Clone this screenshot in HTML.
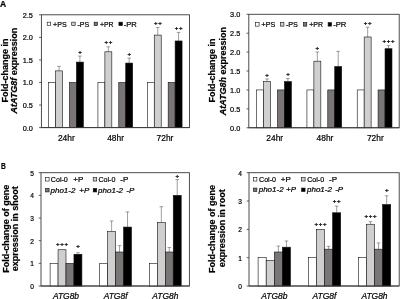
<!DOCTYPE html>
<html lang="en">
<head>
<meta charset="utf-8">
<title>Figure</title>
<style>
html,body{margin:0;padding:0;background:#fff;}
body{width:400px;height:299px;overflow:hidden;font-family:"Liberation Sans", sans-serif;}
svg{display:block;filter:blur(0.3px);}
svg text{stroke:#000;stroke-width:0.22px;}
svg text.m{stroke-width:0.18px;}
</style>
</head>
<body>
<svg width="400" height="299" viewBox="0 0 400 299" font-family='"Liberation Sans", sans-serif' fill="#000">
<rect x="41.4" y="14.8" width="148.1" height="112.8" fill="#fff" stroke="#3a3a3a" stroke-width="0.9"/>
<line x1="39.1" y1="127.6" x2="41.4" y2="127.6" stroke="#3a3a3a" stroke-width="0.8"/>
<text x="32.9" y="130.6" font-size="8" text-anchor="end" textLength="10.2" lengthAdjust="spacingAndGlyphs">0.0</text>
<line x1="39.1" y1="105.04" x2="41.4" y2="105.04" stroke="#3a3a3a" stroke-width="0.8"/>
<text x="32.9" y="108.04" font-size="8" text-anchor="end" textLength="10.2" lengthAdjust="spacingAndGlyphs">0.5</text>
<line x1="39.1" y1="82.48" x2="41.4" y2="82.48" stroke="#3a3a3a" stroke-width="0.8"/>
<text x="32.9" y="85.48" font-size="8" text-anchor="end" textLength="10.2" lengthAdjust="spacingAndGlyphs">1.0</text>
<line x1="39.1" y1="59.92" x2="41.4" y2="59.92" stroke="#3a3a3a" stroke-width="0.8"/>
<text x="32.9" y="62.92" font-size="8" text-anchor="end" textLength="10.2" lengthAdjust="spacingAndGlyphs">1.5</text>
<line x1="39.1" y1="37.36" x2="41.4" y2="37.36" stroke="#3a3a3a" stroke-width="0.8"/>
<text x="32.9" y="40.36" font-size="8" text-anchor="end" textLength="10.2" lengthAdjust="spacingAndGlyphs">2.0</text>
<line x1="39.1" y1="14.8" x2="41.4" y2="14.8" stroke="#3a3a3a" stroke-width="0.8"/>
<text x="32.9" y="17.8" font-size="8" text-anchor="end" textLength="10.2" lengthAdjust="spacingAndGlyphs">2.5</text>
<rect x="48.62" y="82.48" width="6.95" height="45.12" fill="#fff" stroke="#111" stroke-width="0.6"/>
<path d="M59.05 70.88V66.37M57.25 66.37H60.85" stroke="#6a6a6a" stroke-width="0.65" fill="none"/>
<rect x="55.58" y="70.88" width="6.95" height="56.72" fill="#d0cece" stroke="#111" stroke-width="0.6"/>
<rect x="69.47" y="82.48" width="6.95" height="45.12" fill="#7a7676" stroke="#111" stroke-width="0.6"/>
<path d="M79.9 62.09V56.08M78.1 56.08H81.7" stroke="#6a6a6a" stroke-width="0.65" fill="none"/>
<rect x="76.42" y="62.09" width="6.95" height="65.51" fill="#000" stroke="#111" stroke-width="0.6"/>
<text x="80.3" y="53.63" font-size="6.1" text-anchor="middle" font-weight="bold" letter-spacing="0.7" class="m">+</text>
<text x="66.3" y="141.3" font-size="9" text-anchor="middle" textLength="16.8" lengthAdjust="spacingAndGlyphs">24hr</text>
<rect x="97.92" y="82.48" width="6.95" height="45.12" fill="#fff" stroke="#111" stroke-width="0.6"/>
<path d="M108.35 51.8V46.84M106.55 46.84H110.15" stroke="#6a6a6a" stroke-width="0.65" fill="none"/>
<rect x="104.88" y="51.8" width="6.95" height="75.8" fill="#d0cece" stroke="#111" stroke-width="0.6"/>
<text x="108.75" y="44.39" font-size="6.1" text-anchor="middle" font-weight="bold" letter-spacing="0.7" class="m">++</text>
<rect x="118.77" y="82.48" width="6.95" height="45.12" fill="#7a7676" stroke="#111" stroke-width="0.6"/>
<path d="M129.2 63.08V58.12M127.4 58.12H131" stroke="#6a6a6a" stroke-width="0.65" fill="none"/>
<rect x="125.72" y="63.08" width="6.95" height="64.52" fill="#000" stroke="#111" stroke-width="0.6"/>
<text x="129.6" y="55.67" font-size="6.1" text-anchor="middle" font-weight="bold" letter-spacing="0.7" class="m">+</text>
<text x="115.6" y="141.3" font-size="9" text-anchor="middle" textLength="16.8" lengthAdjust="spacingAndGlyphs">48hr</text>
<rect x="147.32" y="82.48" width="6.95" height="45.12" fill="#fff" stroke="#111" stroke-width="0.6"/>
<path d="M157.75 35.1V27.43M155.95 27.43H159.55" stroke="#6a6a6a" stroke-width="0.65" fill="none"/>
<rect x="154.27" y="35.1" width="6.95" height="92.5" fill="#d0cece" stroke="#111" stroke-width="0.6"/>
<text x="158.15" y="24.98" font-size="6.1" text-anchor="middle" font-weight="bold" letter-spacing="0.7" class="m">++</text>
<rect x="168.17" y="82.48" width="6.95" height="45.12" fill="#7a7676" stroke="#111" stroke-width="0.6"/>
<path d="M178.6 40.97V32.4M176.8 32.4H180.4" stroke="#6a6a6a" stroke-width="0.65" fill="none"/>
<rect x="175.12" y="40.97" width="6.95" height="86.63" fill="#000" stroke="#111" stroke-width="0.6"/>
<text x="179" y="29.95" font-size="6.1" text-anchor="middle" font-weight="bold" letter-spacing="0.7" class="m">++</text>
<text x="165" y="141.3" font-size="9" text-anchor="middle" textLength="16.8" lengthAdjust="spacingAndGlyphs">72hr</text>
<line x1="41.4" y1="127.6" x2="189.5" y2="127.6" stroke="#3a3a3a" stroke-width="0.9"/>
<rect x="47.2" y="22.15" width="3.5" height="3.5" fill="#fff" stroke="#111" stroke-width="0.6"/>
<text x="53.1" y="26.5" font-size="8" textLength="13.6" lengthAdjust="spacingAndGlyphs">+PS</text>
<rect x="71.7" y="22.15" width="3.5" height="3.5" fill="#d0cece" stroke="#111" stroke-width="0.6"/>
<text x="77.4" y="26.5" font-size="8" textLength="11.8" lengthAdjust="spacingAndGlyphs">-PS</text>
<rect x="94.1" y="22.15" width="3.5" height="3.5" fill="#7a7676" stroke="#111" stroke-width="0.6"/>
<text x="100" y="26.5" font-size="8" textLength="13.6" lengthAdjust="spacingAndGlyphs">+PR</text>
<rect x="118.9" y="22.15" width="3.5" height="3.5" fill="#000" stroke="#111" stroke-width="0.6"/>
<text x="123.7" y="26.5" font-size="8" textLength="13.1" lengthAdjust="spacingAndGlyphs">-PR</text>
<text transform="translate(7.9 70.6) rotate(-90)" font-size="9" font-weight="bold" text-anchor="middle">Fold-change in</text>
<text transform="translate(17 70.6) rotate(-90)" font-size="9" font-weight="bold" text-anchor="middle"><tspan font-style="italic">AtATG8f</tspan> expression</text>
<rect x="248.8" y="14.3" width="150.4" height="113.45" fill="#fff" stroke="#3a3a3a" stroke-width="0.9"/>
<line x1="246.5" y1="127.75" x2="248.8" y2="127.75" stroke="#3a3a3a" stroke-width="0.8"/>
<text x="240.3" y="130.75" font-size="8" text-anchor="end" textLength="10.2" lengthAdjust="spacingAndGlyphs">0.0</text>
<line x1="246.5" y1="108.84" x2="248.8" y2="108.84" stroke="#3a3a3a" stroke-width="0.8"/>
<text x="240.3" y="111.84" font-size="8" text-anchor="end" textLength="10.2" lengthAdjust="spacingAndGlyphs">0.5</text>
<line x1="246.5" y1="89.93" x2="248.8" y2="89.93" stroke="#3a3a3a" stroke-width="0.8"/>
<text x="240.3" y="92.93" font-size="8" text-anchor="end" textLength="10.2" lengthAdjust="spacingAndGlyphs">1.0</text>
<line x1="246.5" y1="71.02" x2="248.8" y2="71.02" stroke="#3a3a3a" stroke-width="0.8"/>
<text x="240.3" y="74.02" font-size="8" text-anchor="end" textLength="10.2" lengthAdjust="spacingAndGlyphs">1.5</text>
<line x1="246.5" y1="52.12" x2="248.8" y2="52.12" stroke="#3a3a3a" stroke-width="0.8"/>
<text x="240.3" y="55.12" font-size="8" text-anchor="end" textLength="10.2" lengthAdjust="spacingAndGlyphs">2.0</text>
<line x1="246.5" y1="33.21" x2="248.8" y2="33.21" stroke="#3a3a3a" stroke-width="0.8"/>
<text x="240.3" y="36.21" font-size="8" text-anchor="end" textLength="10.2" lengthAdjust="spacingAndGlyphs">2.5</text>
<line x1="246.5" y1="14.3" x2="248.8" y2="14.3" stroke="#3a3a3a" stroke-width="0.8"/>
<text x="240.3" y="17.3" font-size="8" text-anchor="end" textLength="10.2" lengthAdjust="spacingAndGlyphs">3.0</text>
<rect x="256.62" y="89.93" width="6.95" height="37.82" fill="#fff" stroke="#111" stroke-width="0.6"/>
<path d="M267.05 81.61V78.97M265.25 78.97H268.85" stroke="#6a6a6a" stroke-width="0.65" fill="none"/>
<rect x="263.57" y="81.61" width="6.95" height="46.14" fill="#d0cece" stroke="#111" stroke-width="0.6"/>
<text x="267.45" y="76.52" font-size="6.1" text-anchor="middle" font-weight="bold" letter-spacing="0.7" class="m">+</text>
<rect x="277.48" y="89.93" width="6.95" height="37.82" fill="#7a7676" stroke="#111" stroke-width="0.6"/>
<path d="M287.9 81.61V78.59M286.1 78.59H289.7" stroke="#6a6a6a" stroke-width="0.65" fill="none"/>
<rect x="284.43" y="81.61" width="6.95" height="46.14" fill="#000" stroke="#111" stroke-width="0.6"/>
<text x="288.3" y="76.14" font-size="6.1" text-anchor="middle" font-weight="bold" letter-spacing="0.7" class="m">+</text>
<text x="274.7" y="140.7" font-size="9" text-anchor="middle" textLength="16.8" lengthAdjust="spacingAndGlyphs">24hr</text>
<rect x="306.93" y="89.93" width="6.95" height="37.82" fill="#fff" stroke="#111" stroke-width="0.6"/>
<path d="M317.35 61.19V52.04M315.55 52.04H319.15" stroke="#6a6a6a" stroke-width="0.65" fill="none"/>
<rect x="313.88" y="61.19" width="6.95" height="66.56" fill="#d0cece" stroke="#111" stroke-width="0.6"/>
<text x="317.75" y="49.59" font-size="6.1" text-anchor="middle" font-weight="bold" letter-spacing="0.7" class="m">+</text>
<rect x="327.78" y="89.93" width="6.95" height="37.82" fill="#7a7676" stroke="#111" stroke-width="0.6"/>
<path d="M338.2 66.49V51.36M336.4 51.36H340" stroke="#6a6a6a" stroke-width="0.65" fill="none"/>
<rect x="334.73" y="66.49" width="6.95" height="61.26" fill="#000" stroke="#111" stroke-width="0.6"/>
<text x="325" y="140.7" font-size="9" text-anchor="middle" textLength="16.8" lengthAdjust="spacingAndGlyphs">48hr</text>
<rect x="357.23" y="89.93" width="6.95" height="37.82" fill="#fff" stroke="#111" stroke-width="0.6"/>
<path d="M367.65 36.99V27.23M365.85 27.23H369.45" stroke="#6a6a6a" stroke-width="0.65" fill="none"/>
<rect x="364.18" y="36.99" width="6.95" height="90.76" fill="#d0cece" stroke="#111" stroke-width="0.6"/>
<text x="368.05" y="24.78" font-size="6.1" text-anchor="middle" font-weight="bold" letter-spacing="0.7" class="m">++</text>
<rect x="378.08" y="89.93" width="6.95" height="37.82" fill="#7a7676" stroke="#111" stroke-width="0.6"/>
<path d="M388.5 48.71V45.69M386.7 45.69H390.3" stroke="#6a6a6a" stroke-width="0.65" fill="none"/>
<rect x="385.03" y="48.71" width="6.95" height="79.04" fill="#000" stroke="#111" stroke-width="0.6"/>
<text x="388.9" y="43.24" font-size="6.1" text-anchor="middle" font-weight="bold" letter-spacing="0.7" class="m">+++</text>
<text x="375.3" y="140.7" font-size="9" text-anchor="middle" textLength="16.8" lengthAdjust="spacingAndGlyphs">72hr</text>
<line x1="248.8" y1="127.75" x2="399.2" y2="127.75" stroke="#3a3a3a" stroke-width="0.9"/>
<rect x="255.6" y="22.65" width="3.5" height="3.5" fill="#fff" stroke="#111" stroke-width="0.6"/>
<text x="261.6" y="27" font-size="8" textLength="13.6" lengthAdjust="spacingAndGlyphs">+PS</text>
<rect x="280.4" y="22.65" width="3.5" height="3.5" fill="#d0cece" stroke="#111" stroke-width="0.6"/>
<text x="285.9" y="27" font-size="8" textLength="12.0" lengthAdjust="spacingAndGlyphs">-PS</text>
<rect x="303.3" y="22.65" width="3.5" height="3.5" fill="#7a7676" stroke="#111" stroke-width="0.6"/>
<text x="309.2" y="27" font-size="8" textLength="13.8" lengthAdjust="spacingAndGlyphs">+PR</text>
<rect x="328.1" y="22.65" width="3.5" height="3.5" fill="#000" stroke="#111" stroke-width="0.6"/>
<text x="333.2" y="27" font-size="8" textLength="13.2" lengthAdjust="spacingAndGlyphs">-PR</text>
<text transform="translate(215 70.6) rotate(-90)" font-size="9" font-weight="bold" text-anchor="middle">Fold-change in</text>
<text transform="translate(225.7 71.1) rotate(-90)" font-size="9" font-weight="bold" text-anchor="middle"><tspan font-style="italic">AtATG8h</tspan> expression</text>
<rect x="41" y="172.7" width="148.4" height="113.3" fill="#fff" stroke="#3a3a3a" stroke-width="0.9"/>
<line x1="38.7" y1="286" x2="41" y2="286" stroke="#3a3a3a" stroke-width="0.8"/>
<text x="34" y="289" font-size="7.4" text-anchor="end" textLength="3.7" lengthAdjust="spacingAndGlyphs">0</text>
<line x1="38.7" y1="263.34" x2="41" y2="263.34" stroke="#3a3a3a" stroke-width="0.8"/>
<text x="34" y="266.34" font-size="7.4" text-anchor="end" textLength="3.7" lengthAdjust="spacingAndGlyphs">1</text>
<line x1="38.7" y1="240.68" x2="41" y2="240.68" stroke="#3a3a3a" stroke-width="0.8"/>
<text x="34" y="243.68" font-size="7.4" text-anchor="end" textLength="3.7" lengthAdjust="spacingAndGlyphs">2</text>
<line x1="38.7" y1="218.02" x2="41" y2="218.02" stroke="#3a3a3a" stroke-width="0.8"/>
<text x="34" y="221.02" font-size="7.4" text-anchor="end" textLength="3.7" lengthAdjust="spacingAndGlyphs">3</text>
<line x1="38.7" y1="195.36" x2="41" y2="195.36" stroke="#3a3a3a" stroke-width="0.8"/>
<text x="34" y="198.36" font-size="7.4" text-anchor="end" textLength="3.7" lengthAdjust="spacingAndGlyphs">4</text>
<line x1="38.7" y1="172.7" x2="41" y2="172.7" stroke="#3a3a3a" stroke-width="0.8"/>
<text x="34" y="175.7" font-size="7.4" text-anchor="end" textLength="3.7" lengthAdjust="spacingAndGlyphs">5</text>
<rect x="50.1" y="263.34" width="7.95" height="22.66" fill="#fff" stroke="#111" stroke-width="0.6"/>
<rect x="58.05" y="249.74" width="7.95" height="36.26" fill="#d0cece" stroke="#111" stroke-width="0.6"/>
<text x="62.42" y="245.55" font-size="6.1" text-anchor="middle" font-weight="bold" letter-spacing="0.7" class="m">+++</text>
<rect x="66" y="263.34" width="7.95" height="22.66" fill="#7a7676" stroke="#111" stroke-width="0.6"/>
<path d="M77.92 254.28V252.69M76.12 252.69H79.72" stroke="#6a6a6a" stroke-width="0.65" fill="none"/>
<rect x="73.95" y="254.28" width="7.95" height="31.72" fill="#000" stroke="#111" stroke-width="0.6"/>
<text x="78.33" y="247.65" font-size="6.1" text-anchor="middle" font-weight="bold" letter-spacing="0.7" class="m">+</text>
<text x="66" y="298.5" font-size="9" text-anchor="middle" font-style="italic" textLength="26.1" lengthAdjust="spacingAndGlyphs">ATG8b</text>
<rect x="99.7" y="263.34" width="7.95" height="22.66" fill="#fff" stroke="#111" stroke-width="0.6"/>
<path d="M111.62 231.62V220.97M109.82 220.97H113.42" stroke="#6a6a6a" stroke-width="0.65" fill="none"/>
<rect x="107.65" y="231.62" width="7.95" height="54.38" fill="#d0cece" stroke="#111" stroke-width="0.6"/>
<path d="M119.57 252.01V245.67M117.77 245.67H121.37" stroke="#6a6a6a" stroke-width="0.65" fill="none"/>
<rect x="115.6" y="252.01" width="7.95" height="33.99" fill="#7a7676" stroke="#111" stroke-width="0.6"/>
<path d="M127.52 227.08V211.9M125.72 211.9H129.32" stroke="#6a6a6a" stroke-width="0.65" fill="none"/>
<rect x="123.55" y="227.08" width="7.95" height="58.92" fill="#000" stroke="#111" stroke-width="0.6"/>
<text x="115.6" y="298.5" font-size="9" text-anchor="middle" font-style="italic" textLength="23.9" lengthAdjust="spacingAndGlyphs">ATG8f</text>
<rect x="149.4" y="263.34" width="7.95" height="22.66" fill="#fff" stroke="#111" stroke-width="0.6"/>
<path d="M161.33 222.55V206.69M159.53 206.69H163.13" stroke="#6a6a6a" stroke-width="0.65" fill="none"/>
<rect x="157.35" y="222.55" width="7.95" height="63.45" fill="#d0cece" stroke="#111" stroke-width="0.6"/>
<path d="M169.28 252.01V247.48M167.47 247.48H171.08" stroke="#6a6a6a" stroke-width="0.65" fill="none"/>
<rect x="165.3" y="252.01" width="7.95" height="33.99" fill="#7a7676" stroke="#111" stroke-width="0.6"/>
<path d="M177.22 195.36V179.5M175.42 179.5H179.03" stroke="#6a6a6a" stroke-width="0.65" fill="none"/>
<rect x="173.25" y="195.36" width="7.95" height="90.64" fill="#000" stroke="#111" stroke-width="0.6"/>
<text x="177.62" y="178.35" font-size="6.1" text-anchor="middle" font-weight="bold" letter-spacing="0.7" class="m">+</text>
<text x="165.3" y="298.5" font-size="9" text-anchor="middle" font-style="italic" textLength="26.1" lengthAdjust="spacingAndGlyphs">ATG8h</text>
<line x1="41" y1="286" x2="189.4" y2="286" stroke="#3a3a3a" stroke-width="0.9"/>
<rect x="45.6" y="177.55" width="3.5" height="3.5" fill="#fff" stroke="#111" stroke-width="0.6"/>
<text x="50.8" y="181.9" font-size="8" textLength="17" lengthAdjust="spacingAndGlyphs">Col-0</text>
<text x="73.3" y="181.9" font-size="8">+P</text>
<rect x="93.2" y="177.55" width="3.5" height="3.5" fill="#d0cece" stroke="#111" stroke-width="0.6"/>
<text x="98.4" y="181.9" font-size="8" textLength="17" lengthAdjust="spacingAndGlyphs">Col-0</text>
<text x="120.3" y="181.9" font-size="8">-P</text>
<rect x="45.6" y="188.45" width="3.5" height="3.5" fill="#7a7676" stroke="#111" stroke-width="0.6"/>
<text x="50.5" y="192.8" font-size="8" font-style="italic">pho1-2</text>
<text x="79.3" y="192.8" font-size="8" font-style="italic">+P</text>
<rect x="93.2" y="188.45" width="3.5" height="3.5" fill="#000" stroke="#111" stroke-width="0.6"/>
<text x="98.1" y="192.8" font-size="8" font-style="italic">pho1-2</text>
<text x="126.3" y="192.8" font-size="8" font-style="italic">-P</text>
<text transform="translate(8.7 228.7) rotate(-90)" font-size="9" font-weight="bold" text-anchor="middle">Fold-change of gene</text>
<text transform="translate(18.2 228.7) rotate(-90)" font-size="9" font-weight="bold" text-anchor="middle">expression in shoot</text>
<rect x="249" y="172.7" width="150.2" height="113.3" fill="#fff" stroke="#3a3a3a" stroke-width="0.9"/>
<line x1="246.7" y1="286" x2="249" y2="286" stroke="#3a3a3a" stroke-width="0.8"/>
<text x="242" y="289" font-size="7.4" text-anchor="end" textLength="3.7" lengthAdjust="spacingAndGlyphs">0</text>
<line x1="246.7" y1="257.68" x2="249" y2="257.68" stroke="#3a3a3a" stroke-width="0.8"/>
<text x="242" y="260.68" font-size="7.4" text-anchor="end" textLength="3.7" lengthAdjust="spacingAndGlyphs">1</text>
<line x1="246.7" y1="229.35" x2="249" y2="229.35" stroke="#3a3a3a" stroke-width="0.8"/>
<text x="242" y="232.35" font-size="7.4" text-anchor="end" textLength="3.7" lengthAdjust="spacingAndGlyphs">2</text>
<line x1="246.7" y1="201.02" x2="249" y2="201.02" stroke="#3a3a3a" stroke-width="0.8"/>
<text x="242" y="204.02" font-size="7.4" text-anchor="end" textLength="3.7" lengthAdjust="spacingAndGlyphs">3</text>
<line x1="246.7" y1="172.7" x2="249" y2="172.7" stroke="#3a3a3a" stroke-width="0.8"/>
<text x="242" y="175.7" font-size="7.4" text-anchor="end" textLength="3.7" lengthAdjust="spacingAndGlyphs">4</text>
<rect x="258.1" y="257.68" width="8.1" height="28.32" fill="#fff" stroke="#111" stroke-width="0.6"/>
<rect x="266.2" y="260.51" width="8.1" height="25.49" fill="#d0cece" stroke="#111" stroke-width="0.6"/>
<path d="M278.35 252.01V246.06M276.55 246.06H280.15" stroke="#6a6a6a" stroke-width="0.65" fill="none"/>
<rect x="274.3" y="252.01" width="8.1" height="33.99" fill="#7a7676" stroke="#111" stroke-width="0.6"/>
<path d="M286.45 247.19V240.96M284.65 240.96H288.25" stroke="#6a6a6a" stroke-width="0.65" fill="none"/>
<rect x="282.4" y="247.19" width="8.1" height="38.81" fill="#000" stroke="#111" stroke-width="0.6"/>
<text x="274.3" y="298.5" font-size="9" text-anchor="middle" font-style="italic" textLength="26.1" lengthAdjust="spacingAndGlyphs">ATG8b</text>
<rect x="308.3" y="257.68" width="8.1" height="28.32" fill="#fff" stroke="#111" stroke-width="0.6"/>
<rect x="316.4" y="229.35" width="8.1" height="56.65" fill="#d0cece" stroke="#111" stroke-width="0.6"/>
<text x="320.85" y="225.65" font-size="6.1" text-anchor="middle" font-weight="bold" letter-spacing="0.7" class="m">+++</text>
<path d="M328.55 249.18V246.34M326.75 246.34H330.35" stroke="#6a6a6a" stroke-width="0.65" fill="none"/>
<rect x="324.5" y="249.18" width="8.1" height="36.82" fill="#7a7676" stroke="#111" stroke-width="0.6"/>
<path d="M336.65 212.78V206.12M334.85 206.12H338.45" stroke="#6a6a6a" stroke-width="0.65" fill="none"/>
<rect x="332.6" y="212.78" width="8.1" height="73.22" fill="#000" stroke="#111" stroke-width="0.6"/>
<text x="337.05" y="203.25" font-size="6.1" text-anchor="middle" font-weight="bold" letter-spacing="0.7" class="m">++</text>
<text x="324.5" y="298.5" font-size="9" text-anchor="middle" font-style="italic" textLength="23.9" lengthAdjust="spacingAndGlyphs">ATG8f</text>
<rect x="358.3" y="257.68" width="8.1" height="28.32" fill="#fff" stroke="#111" stroke-width="0.6"/>
<path d="M370.45 224.25V221.7M368.65 221.7H372.25" stroke="#6a6a6a" stroke-width="0.65" fill="none"/>
<rect x="366.4" y="224.25" width="8.1" height="61.75" fill="#d0cece" stroke="#111" stroke-width="0.6"/>
<text x="370.85" y="217.75" font-size="6.1" text-anchor="middle" font-weight="bold" letter-spacing="0.7" class="m">+++</text>
<path d="M378.55 249.18V242.95M376.75 242.95H380.35" stroke="#6a6a6a" stroke-width="0.65" fill="none"/>
<rect x="374.5" y="249.18" width="8.1" height="36.82" fill="#7a7676" stroke="#111" stroke-width="0.6"/>
<path d="M386.65 204.57V195.78M384.85 195.78H388.45" stroke="#6a6a6a" stroke-width="0.65" fill="none"/>
<rect x="382.6" y="204.57" width="8.1" height="81.43" fill="#000" stroke="#111" stroke-width="0.6"/>
<text x="387.05" y="192.05" font-size="6.1" text-anchor="middle" font-weight="bold" letter-spacing="0.7" class="m">+</text>
<text x="374.5" y="298.5" font-size="9" text-anchor="middle" font-style="italic" textLength="26.1" lengthAdjust="spacingAndGlyphs">ATG8h</text>
<line x1="249" y1="286" x2="399.2" y2="286" stroke="#3a3a3a" stroke-width="0.9"/>
<rect x="253.4" y="177.55" width="3.5" height="3.5" fill="#fff" stroke="#111" stroke-width="0.6"/>
<text x="259" y="181.9" font-size="8" textLength="17" lengthAdjust="spacingAndGlyphs">Col-0</text>
<text x="280.8" y="181.9" font-size="8">+P</text>
<rect x="301.6" y="177.55" width="3.5" height="3.5" fill="#d0cece" stroke="#111" stroke-width="0.6"/>
<text x="307.2" y="181.9" font-size="8" textLength="17" lengthAdjust="spacingAndGlyphs">Col-0</text>
<text x="329.1" y="181.9" font-size="8">-P</text>
<rect x="253.4" y="188.05" width="3.5" height="3.5" fill="#7a7676" stroke="#111" stroke-width="0.6"/>
<text x="258.7" y="192.4" font-size="8" font-style="italic">pho1-2</text>
<text x="286.1" y="192.4" font-size="8" font-style="italic">+P</text>
<rect x="301.6" y="188.05" width="3.5" height="3.5" fill="#000" stroke="#111" stroke-width="0.6"/>
<text x="307" y="192.4" font-size="8" font-style="italic">pho1-2</text>
<text x="335.2" y="192.4" font-size="8" font-style="italic">-P</text>
<text transform="translate(214.7 229) rotate(-90)" font-size="9" font-weight="bold" text-anchor="middle">Fold-change of gene</text>
<text transform="translate(224.8 228.3) rotate(-90)" font-size="9" font-weight="bold" text-anchor="middle">expression in root</text>
<text x="-0.1" y="7.2" font-size="8.5" font-weight="bold">A</text>
<text x="1" y="168.9" font-size="8.5" font-weight="bold" textLength="4.8" lengthAdjust="spacingAndGlyphs">B</text>
</svg>
</body>
</html>
